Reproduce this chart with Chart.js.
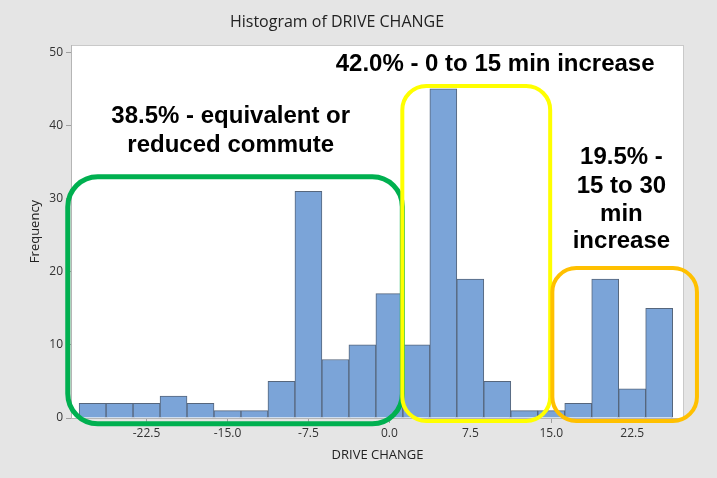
<!DOCTYPE html>
<html>
<head>
<meta charset="utf-8">
<script src="https://cdn.jsdelivr.net/npm/chart.js@4.4.0/dist/chart.umd.min.js"></script>
<style>
  html, body { margin: 0; padding: 0; background: #e5e5e5; }
  #wrap { width: 717px; height: 478px; }
</style>
</head>
<body>
<div id="wrap"><canvas id="histChart" width="717" height="478"></canvas></div>
<script>
// histogram bins (centre of each 2.5 min bin) and counts
let binCenters = [-27.5, -25, -22.5, -20, -17.5, -15, -12.5, -10, -7.5, -5, -2.5, 0, 2.5, 5, 7.5, 10, 12.5, 15, 17.5, 20, 22.5, 25];
let counts = [2, 2, 2, 3, 2, 1, 1, 5, 31, 8, 10, 17, 10, 45, 19, 5, 1, 1, 2, 19, 4, 15];
let xTicks = [-22.5, -15.0, -7.5, 0.0, 7.5, 15.0, 22.5];
let yTicks = [0, 10, 20, 30, 40, 50];

// highlight groups drawn over the bars (data units)
let groupNames = ['reduced', 'small', 'large'];
let groupX = [[-29.8, 1.2], [1.2, 14.9], [15.1, 28.5]];
let groupY = [[-0.8, 33.0], [-0.4, 45.4], [-0.4, 20.5]];
let groupColors = ['#00b050', '#ffff00', '#ffc000'];

// callout texts, one entry per line
let noteLines = ['42.0% - 0 to 15 min increase', '38.5% - equivalent or', 'reduced commute', '19.5% -', '15 to 30', 'min', 'increase'];
let noteX = [9.8, -14.7, -14.7, 21.5, 21.5, 21.5, 21.5];
let noteY = [48.4, 41.2, 37.3, 35.6, 31.7, 27.9, 24.1];

let plotFrame = {
    id: 'plotFrame',
    beforeDraw: (chart) => {
        let ctx = chart.ctx;
        let a = chart.chartArea;
        ctx.save();
        ctx.fillStyle = '#e5e5e5';
        ctx.fillRect(0, 0, chart.width, chart.height);
        ctx.fillStyle = '#ffffff';
        ctx.fillRect(a.left, a.top, a.right - a.left, a.bottom - a.top);
        ctx.strokeStyle = '#c9c9c9';
        ctx.lineWidth = 1;
        ctx.strokeRect(a.left + 0.5, a.top + 0.5, a.right - a.left - 1, a.bottom - a.top);
        // chart heading
        ctx.fillStyle = '#222';
        ctx.font = '16px "Open Sans", "DejaVu Sans", sans-serif';
        ctx.textAlign = 'center';
        ctx.textBaseline = 'middle';
        ctx.fillText('Histogram of DRIVE CHANGE', 337, 22);
        ctx.restore();
    }
};

let callouts = {
    id: 'callouts',
    afterDatasetsDraw: (chart) => {
        let ctx = chart.ctx;
        let xs = chart.scales.x;
        let ys = chart.scales.y;
        ctx.save();
        groupNames.forEach((g, i) => {
            let x1 = xs.getPixelForValue(groupX[i][0]);
            let x2 = xs.getPixelForValue(groupX[i][1]);
            let y1 = ys.getPixelForValue(groupY[i][1]);
            let y2 = ys.getPixelForValue(groupY[i][0]);
            ctx.beginPath();
            ctx.roundRect(x1, y1, x2 - x1, y2 - y1, i == 0 ? 30 : 24);
            ctx.lineWidth = i == 0 ? 5 : 4;
            ctx.strokeStyle = groupColors[i];
            ctx.stroke();
        });
        ctx.fillStyle = '#000';
        ctx.font = 'bold 24px "Liberation Sans", Arial, sans-serif';
        ctx.textAlign = 'center';
        ctx.textBaseline = 'middle';
        noteLines.forEach((t, i) => {
            ctx.fillText(t, xs.getPixelForValue(noteX[i]), ys.getPixelForValue(noteY[i]));
        });
        ctx.restore();
    }
};

let ctx = document.getElementById('histChart');
let histChart = new Chart(ctx, {
    type: 'bar',
    data: {
        datasets: [{
            label: 'DRIVE CHANGE',
            data: binCenters.map((c, i) => ({ x: c, y: counts[i] })),
            backgroundColor: '#7ba4d8',
            borderColor: '#56667c',
            borderWidth: 1,
            barPercentage: 1,
            categoryPercentage: 1
        }]
    },
    options: {
        responsive: false,
        animation: false,
        layout: { padding: { top: 45, right: 33, left: 0, bottom: 0 } },
        plugins: {
            legend: { display: false },
            tooltip: { enabled: false },
            title: { display: false }
        },
        scales: {
            x: {
                type: 'linear',
                offset: false,
                min: -29.5,
                max: 27.3,
                afterBuildTicks: (scale) => { scale.ticks = xTicks.map(v => ({ value: v })); },
                afterFit: (scale) => { scale.height = 60; },
                grid: { offset: false, drawOnChartArea: false, drawTicks: true, tickLength: 5, color: '#a0a0a0' },
                border: { display: true, color: '#b5b5b5' },
                ticks: {
                    color: '#333',
                    padding: 3,
                    maxRotation: 0,
                    font: { family: '"Open Sans", "DejaVu Sans", sans-serif', size: 12 },
                    callback: (v) => v.toFixed(1)
                },
                title: {
                    display: true,
                    text: 'DRIVE CHANGE',
                    color: '#222',
                    padding: { top: 15, bottom: 15 },
                    font: { family: '"Open Sans", "DejaVu Sans", sans-serif', size: 13 }
                }
            },
            y: {
                min: 0,
                max: 51,
                afterBuildTicks: (scale) => { scale.ticks = yTicks.map(v => ({ value: v })); },
                afterFit: (scale) => { scale.width = 71; },
                grid: { drawOnChartArea: false, drawTicks: true, tickLength: 5, color: '#a0a0a0' },
                border: { display: true, color: '#b5b5b5' },
                ticks: {
                    color: '#333',
                    padding: 3,
                    font: { family: '"Open Sans", "DejaVu Sans", sans-serif', size: 12 }
                },
                title: {
                    display: true,
                    text: 'Frequency',
                    color: '#222',
                    padding: { top: 27, bottom: 27 },
                    font: { family: '"Open Sans", "DejaVu Sans", sans-serif', size: 13 }
                }
            }
        }
    },
    plugins: [plotFrame, callouts]
});
</script>
</body>
</html>
